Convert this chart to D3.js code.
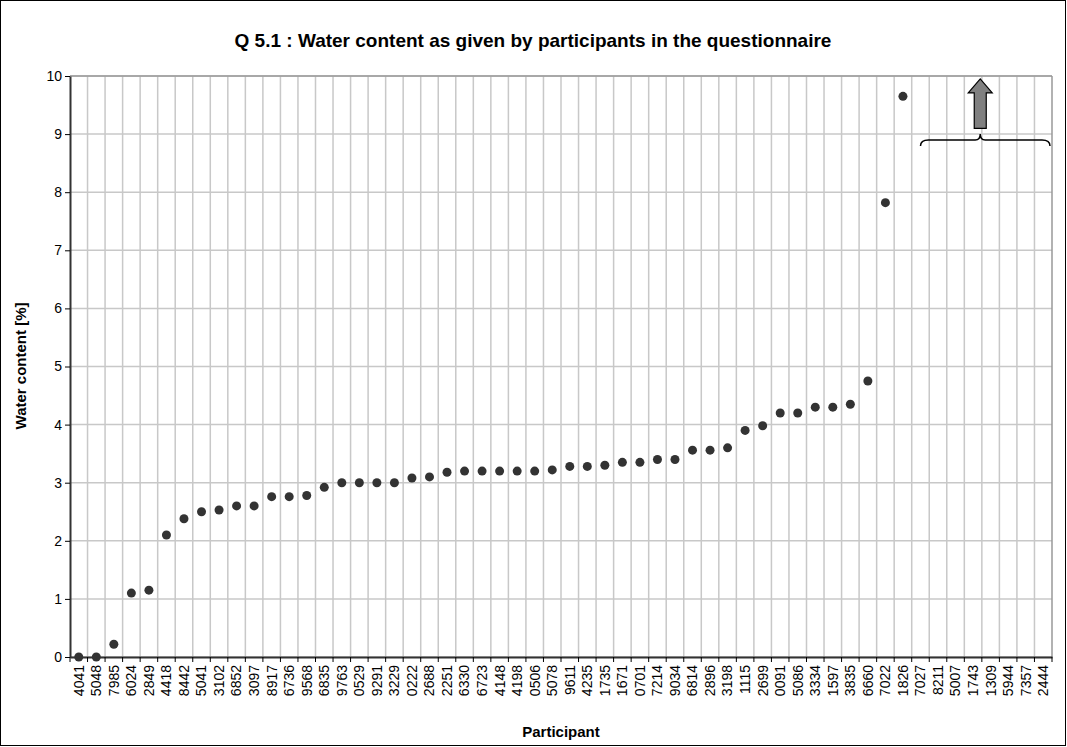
<!DOCTYPE html>
<html><head><meta charset="utf-8">
<script src="https://cdn.jsdelivr.net/npm/d3@7"></script>
<style>body{margin:0;background:#fff}svg{font-family:"Liberation Sans",Arial,sans-serif}</style>
</head><body><svg id="chart" width="1067" height="747"></svg>
<script>
var participants = ['4041','5048','7985','6024','2849','4418','8442','5041','3102','6852','3097','8917','6736','9568','6835','9763','0529','9291','3229','0222','2688','2251','6330','6723','4148','4198','0506','5078','9611','4235','1735','1671','0701','7214','9034','6814','2896','3198','1115','2699','0091','5086','3334','1597','3835','6660','7022','1826','7027','8211','5007','1743','1309','5944','7357','2444'];
var water = [0,0,0.22,1.1,1.15,2.1,2.38,2.5,2.53,2.6,2.6,2.76,2.76,2.78,2.92,3.0,3.0,3.0,3.0,3.08,3.1,3.18,3.2,3.2,3.2,3.2,3.2,3.22,3.28,3.28,3.3,3.35,3.35,3.4,3.4,3.56,3.56,3.6,3.9,3.98,4.2,4.2,4.3,4.3,4.35,4.75,7.82,9.65,null,null,null,null,null,null,null,null];
var yTicks = [0,1,2,3,4,5,6,7,8,9,10];
var offscale = ['7027','2444']; // participants above 10 %

var svg = d3.select('#chart');
var m = {left: 70, right: 1052, top: 76, bottom: 657};
svg.append('rect').attr('x',0.5).attr('y',0.5).attr('width',1065).attr('height',745)
  .attr('fill','#fff').attr('stroke','#000');

var x = d3.scaleBand().domain(participants).range([m.left, m.right]);
var y = d3.scaleLinear().domain([0,10]).range([m.bottom, m.top]);

// grid
svg.append('g').selectAll('line').data(yTicks).enter().append('line')
  .attr('x1',m.left).attr('x2',m.right).attr('y1',d=>y(d)).attr('y2',d=>y(d))
  .attr('stroke','#c8c8c8').attr('stroke-width',1.5);
svg.append('g').selectAll('line').data(participants.slice(1)).enter().append('line')
  .attr('x1',d=>x(d)).attr('x2',d=>x(d)).attr('y1',m.top).attr('y2',m.bottom)
  .attr('stroke','#c8c8c8').attr('stroke-width',1.5);
svg.append('line').attr('x1',m.right).attr('x2',m.right).attr('y1',m.top).attr('y2',m.bottom)
  .attr('stroke','#999').attr('stroke-width',1.5);
svg.append('line').attr('x1',m.left).attr('x2',m.right).attr('y1',m.top).attr('y2',m.top)
  .attr('stroke','#999').attr('stroke-width',1.5);

// axes
var yAxis = svg.append('g').attr('transform','translate('+m.left+',0)')
  .call(d3.axisLeft(y).tickValues(yTicks).tickSize(5).tickSizeOuter(0));
yAxis.selectAll('text').attr('font-size',14).attr('fill','#000');
var xAxis = svg.append('g').attr('transform','translate(0,'+m.bottom+')')
  .call(d3.axisBottom(x).tickSize(0).tickSizeOuter(0));
xAxis.selectAll('text').attr('font-size',14).attr('fill','#000')
  .attr('transform','rotate(-90)').attr('text-anchor','end').attr('x',-8).attr('y',0).attr('dy','0.35em');
svg.append('g').selectAll('line').data(participants.concat(['end'])).enter().append('line')
  .attr('x1',(d,i)=>m.left+i*x.step()).attr('x2',(d,i)=>m.left+i*x.step())
  .attr('y1',m.bottom).attr('y2',m.bottom+5).attr('stroke','#000');
svg.selectAll('.domain').attr('stroke','#333').attr('stroke-width',2);

// points
svg.append('g').selectAll('circle').data(participants.map((p,i)=>({p:p,v:water[i]})).filter(d=>d.v!==null))
  .enter().append('circle').attr('cx',d=>x(d.p)+x.bandwidth()/2).attr('cy',d=>y(d.v))
  .attr('r',4.5).attr('fill','#333');

// brace + arrow for off-scale values
var bx1 = x(offscale[0]) + x.bandwidth()/2, bx2 = x(offscale[1]) + x.bandwidth()-2;
var bm = (bx1+bx2)/2 - 5, by = y(8.9);
svg.append('path').attr('fill','none').attr('stroke','#000').attr('stroke-width',1.5)
  .attr('d','M'+bx1+','+(by+6)+' Q'+bx1+','+by+' '+(bx1+8)+','+by+' L'+(bm-5)+','+by+' Q'+bm+','+by+' '+bm+','+(by-6)+
    ' Q'+bm+','+by+' '+(bm+5)+','+by+' L'+(bx2-8)+','+by+' Q'+bx2+','+by+' '+bx2+','+(by+6));
var ay = y(9.1), at = y(9.95);
svg.append('path').attr('fill','#808080').attr('stroke','#000').attr('stroke-width',1.2)
  .attr('d','M'+(bm-6)+','+ay+' L'+(bm-6)+','+(at+14)+' L'+(bm-12)+','+(at+14)+' L'+bm+','+at+' L'+(bm+12)+','+(at+14)+' L'+(bm+6)+','+(at+14)+' L'+(bm+6)+','+ay+' Z');

// titles
svg.append('text').attr('x',533).attr('y',47).attr('text-anchor','middle').attr('font-size',19)
  .attr('font-weight','bold').text('Q 5.1 : Water content as given by participants in the questionnaire');
svg.append('text').attr('x',561).attr('y',737).attr('text-anchor','middle').attr('font-size',15)
  .attr('font-weight','bold').text('Participant');
svg.append('text').attr('transform','translate(26,366) rotate(-90)').attr('text-anchor','middle')
  .attr('font-size',15).attr('font-weight','bold').text('Water content [%]');
</script></body></html>
